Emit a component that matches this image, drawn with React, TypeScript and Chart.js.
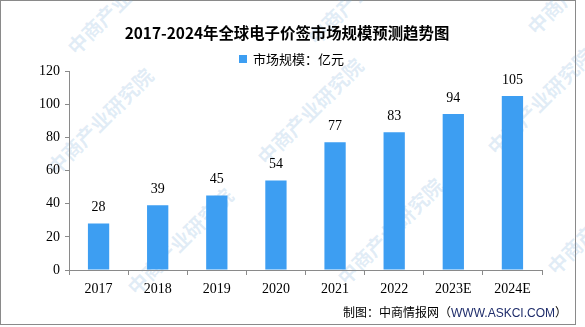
import React, { useEffect, useRef } from "react";
import { Chart, registerables } from "chart.js";

Chart.register(...registerables);

const categories = ["2017", "2018", "2019", "2020", "2021", "2022", "2023E", "2024E"];
const marketSize = [28, 39, 45, 54, 77, 83, 94, 105];
const yTicks = [0, 20, 40, 60, 80, 100, 120];
const titleText = "2017-2024年全球电子价签市场规模预测趋势图";
const legendText = "市场规模：亿元";
const sourcePrefix = "制图：中商情报网（";
const sourceUrl = "WWW.ASKCI.COM";
const sourceSuffix = "）";

const BAR_COLOR = "#3D9EF2";
const AXIS_COLOR = "#8a8a8a";

const valueLabels = {
  id: "valueLabels",
  afterDatasetsDraw(chart: any) {
    const ctx = chart.ctx;
    const meta = chart.getDatasetMeta(0);
    ctx.save();
    ctx.fillStyle = "#000";
    ctx.font = "14px 'Liberation Serif', serif";
    ctx.textAlign = "center";
    ctx.textBaseline = "middle";
    meta.data.forEach((bar: any, i: number) => {
      ctx.fillText(String(marketSize[i]), bar.x, bar.y - 16);
    });
    ctx.restore();
  },
};

const watermarks = [
  [40, 160], [250, 150], [480, 140], [120, 280], [330, 270], [540, 260], [60, 40], [300, 30], [520, 20],
];

export default function App() {
  const ref = useRef<HTMLCanvasElement | null>(null);
  useEffect(() => {
    if (!ref.current) return;
    const chart = new Chart(ref.current, {
      type: "bar",
      data: {
        labels: categories,
        datasets: [
          {
            label: legendText,
            data: marketSize,
            backgroundColor: BAR_COLOR,
            categoryPercentage: 1,
            barPercentage: 0.36,
          },
        ],
      },
      options: {
        animation: false,
        responsive: false,
        layout: { padding: { left: 0, top: 71, right: 43, bottom: 0 } },
        plugins: { legend: { display: false }, title: { display: false }, tooltip: { enabled: false } },
        scales: {
          x: {
            offset: true,
            grid: { offset: true, drawOnChartArea: false, drawTicks: true, tickLength: 5, color: AXIS_COLOR },
            border: { display: true, color: AXIS_COLOR, width: 1 },
            ticks: { color: "#000", font: { family: "'Liberation Serif', serif", size: 14 }, padding: 6, maxRotation: 0 },
            afterFit(scale: any) { scale.height = 57; },
          },
          y: {
            min: 0,
            max: 120,
            afterBuildTicks(scale: any) { scale.ticks = yTicks.map((v) => ({ value: v })); },
            grid: { drawOnChartArea: false, drawTicks: true, tickLength: 4, color: AXIS_COLOR },
            border: { display: true, color: AXIS_COLOR, width: 1 },
            ticks: { color: "#000", font: { family: "'Liberation Serif', serif", size: 14 }, padding: 5 },
            afterFit(scale: any) { scale.width = 69; },
          },
        },
      },
      plugins: [valueLabels],
    });
    return () => chart.destroy();
  }, []);

  return (
    <div style={{ position: "fixed", left: 0, top: 0, width: 585, height: 327, background: "#fff", overflow: "hidden" }}>
      <div style={{ position: "absolute", left: 0, top: 0, width: 574, height: 323, border: "1px solid #8a8a8a" }} />
      {watermarks.map(([x, y], i) => (
        <div key={i} style={{ position: "absolute", left: x, top: y, transform: "rotate(-45deg)", transformOrigin: "left top", color: "rgba(120,170,215,0.22)", font: "bold 20px 'Noto Sans CJK SC', sans-serif", whiteSpace: "nowrap", pointerEvents: "none" }}>
          中商产业研究院
        </div>
      ))}
      <canvas ref={ref} width={585} height={327} style={{ position: "absolute", left: 0, top: 0, width: 585, height: 327 }} />
      <div style={{ position: "absolute", left: 0, width: 574, top: 22, textAlign: "center", font: "bold 15.4px 'Noto Sans CJK SC', sans-serif", color: "#000", lineHeight: "20px", letterSpacing: 0 }}>
        {titleText}
      </div>
      <div style={{ position: "absolute", left: 239, top: 50, display: "flex", alignItems: "center", font: "13px 'Noto Sans CJK SC', sans-serif", color: "#000", lineHeight: "18px" }}>
        <span style={{ display: "inline-block", width: 8, height: 8, background: BAR_COLOR, marginRight: 6 }} />
        <span>{legendText}</span>
      </div>
      <div style={{ position: "absolute", right: 18, top: 303, font: "12px 'Noto Sans CJK SC', sans-serif", color: "#000", lineHeight: "18px", whiteSpace: "nowrap" }}>
        {sourcePrefix}
        <span style={{ color: "#1f2d6b", fontFamily: "'Liberation Sans', Arial, sans-serif" }}>{sourceUrl}</span>
        {sourceSuffix}
      </div>
    </div>
  );
}
